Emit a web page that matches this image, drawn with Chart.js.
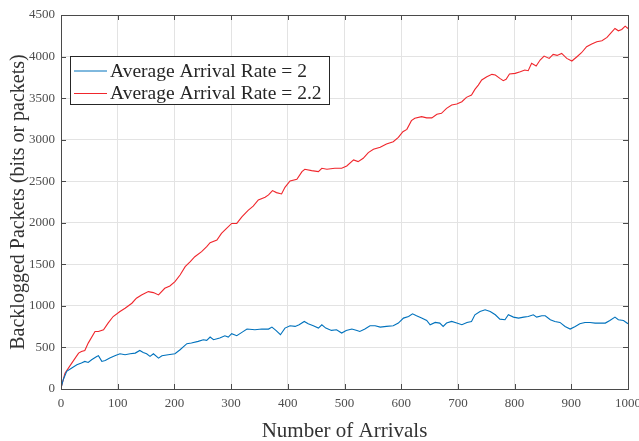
<!DOCTYPE html>
<html>
<head>
<meta charset="utf-8">
<script src="https://cdn.jsdelivr.net/npm/chart.js@4"></script>
<style>
	html, body { margin: 0; padding: 0; background: #fff; }
	#wrap { width: 639px; height: 441px; }
</style>
</head>
<body>
<div id="wrap"><canvas id="myChart" width="639" height="441"></canvas></div>
<script>
// values
const rate2X = [0, 4, 10, 19, 28, 36, 42, 48, 54, 63, 66, 72, 78, 86, 95, 104, 113, 122, 131, 139, 145, 151, 157, 163, 172, 178, 189, 201, 210, 222, 230, 242, 251, 257, 263, 269, 280, 289, 295, 301, 310, 319, 328, 342, 354, 366, 372, 379, 387, 395, 404, 413, 420, 429, 436, 445, 454, 460, 467, 477, 486, 495, 503, 513, 522, 527, 536, 545, 554, 563, 574, 586, 595, 604, 613, 620, 627, 636, 645, 651, 660, 668, 674, 680, 689, 698, 707, 716, 724, 730, 739, 748, 757, 766, 774, 783, 789, 798, 807, 816, 824, 833, 839, 848, 854, 863, 871, 880, 889, 898, 907, 915, 924, 933, 942, 951, 960, 968, 977, 983, 992, 1000]
const rate2Y = [12, 112, 212, 252, 292, 312, 332, 320, 352, 392, 400, 332, 344, 372, 400, 424, 412, 424, 432, 464, 440, 424, 392, 424, 372, 400, 412, 424, 472, 545, 553, 573, 593, 585, 625, 593, 613, 641, 625, 665, 641, 681, 721, 713, 721, 721, 745, 705, 653, 733, 761, 753, 773, 813, 785, 761, 733, 773, 733, 705, 713, 673, 705, 721, 705, 693, 721, 761, 761, 745, 753, 761, 793, 853, 873, 905, 881, 853, 825, 773, 801, 793, 753, 793, 813, 793, 773, 801, 813, 893, 933, 953, 933, 893, 841, 833, 893, 865, 853, 865, 873, 893, 865, 881, 881, 833, 813, 801, 753, 721, 753, 785, 801, 801, 793, 793, 793, 825, 865, 833, 825, 785]

const rate22X = [0, 7, 19, 31, 36, 42, 48, 60, 66, 75, 83, 92, 104, 113, 125, 133, 142, 154, 163, 172, 183, 192, 201, 210, 219, 228, 236, 248, 257, 263, 275, 283, 292, 301, 310, 319, 330, 339, 348, 360, 366, 373, 380, 389, 395, 404, 416, 425, 430, 442, 454, 460, 469, 483, 495, 504, 516, 524, 533, 542, 551, 563, 574, 586, 595, 603, 610, 618, 624, 636, 645, 654, 663, 671, 680, 689, 698, 707, 715, 724, 730, 736, 742, 751, 760, 766, 774, 780, 785, 791, 801, 810, 818, 824, 830, 838, 845, 852, 861, 868, 875, 883, 892, 901, 910, 918, 927, 936, 945, 954, 963, 970, 977, 983, 989, 995, 1000]
const rate22Y = [10, 190, 312, 432, 452, 464, 552, 692, 692, 712, 792, 872, 932, 972, 1032, 1092, 1132, 1172, 1160, 1132, 1212, 1240, 1292, 1372, 1472, 1532, 1592, 1652, 1712, 1760, 1792, 1872, 1932, 1992, 1992, 2072, 2150, 2200, 2275, 2307, 2335, 2387, 2363, 2347, 2427, 2503, 2523, 2616, 2644, 2628, 2616, 2656, 2644, 2656, 2656, 2684, 2756, 2736, 2776, 2844, 2884, 2908, 2948, 2976, 3028, 3096, 3124, 3229, 3257, 3277, 3262, 3262, 3305, 3317, 3377, 3417, 3429, 3457, 3509, 3537, 3605, 3657, 3718, 3758, 3786, 3778, 3738, 3710, 3726, 3790, 3798, 3818, 3838, 3830, 3918, 3886, 3958, 4006, 3978, 4026, 4014, 4038, 3978, 3946, 3998, 4046, 4118, 4150, 4178, 4190, 4230, 4286, 4338, 4310, 4326, 4366, 4338]

const seriesLabels = ['Average Arrival Rate = 2', 'Average Arrival Rate = 2.2']
const seriesColors = ['#0072bd', '#f0262c']
const xTicks = [0, 100, 200, 300, 400, 500, 600, 700, 800, 900, 1000]
const yTicks = [0, 500, 1000, 1500, 2000, 2500, 3000, 3500, 4000, 4500]
const xTitle = 'Number of Arrivals'
const yTitle = 'Backlogged Packets (bits or packets)'

const serif = "'Liberation Serif', 'Times New Roman', serif"
const toPoints = (xs, ys) => xs.map((x, i) => ({ x: x, y: ys[i] }))

// matlab style box, inside ticks, legend and axis titles
const matlabFrame = {
	id: 'matlabFrame',
	afterDraw(chart) {
		const { ctx, chartArea: a, scales } = chart
		ctx.save()
		ctx.strokeStyle = '#4a4a4a'
		ctx.lineWidth = 1
		ctx.beginPath()
		xTicks.forEach((t) => {
			const px = Math.round(scales.x.getPixelForValue(t)) + 0.5
			ctx.moveTo(px, a.bottom)
			ctx.lineTo(px, a.bottom - 5)
			ctx.moveTo(px, a.top)
			ctx.lineTo(px, a.top + 5)
		})
		yTicks.forEach((t) => {
			const py = Math.round(scales.y.getPixelForValue(t)) + 0.5
			ctx.moveTo(a.left, py)
			ctx.lineTo(a.left + 5, py)
			ctx.moveTo(a.right, py)
			ctx.lineTo(a.right - 5, py)
		})
		ctx.stroke()
		ctx.strokeRect(Math.round(a.left) + 0.5, Math.round(a.top) + 0.5, Math.round(a.right - a.left), Math.round(a.bottom - a.top))

		// legend
		const lx = 70, ly = 56, lw = 259, lh = 48
		ctx.fillStyle = '#fff'
		ctx.fillRect(lx, ly, lw, lh)
		ctx.strokeStyle = '#262626'
		ctx.strokeRect(lx + 0.5, ly + 0.5, lw, lh)
		ctx.font = '19.5px ' + serif
		ctx.textBaseline = 'middle'
		ctx.textAlign = 'left'
		seriesLabels.forEach((label, i) => {
			const y = ly + 14.5 + i * 22.5
			ctx.strokeStyle = seriesColors[i]
			ctx.beginPath()
			ctx.moveTo(lx + 4, y + 0.5)
			ctx.lineTo(lx + 37, y + 0.5)
			ctx.stroke()
			ctx.fillStyle = '#262626'
			ctx.fillText(label, lx + 40, y + 1)
		})

		// axis titles
		ctx.fillStyle = '#333'
		ctx.font = '21px ' + serif
		ctx.textAlign = 'center'
		ctx.textBaseline = 'alphabetic'
		ctx.fillText(xTitle, (a.left + a.right) / 2, 437)
		ctx.font = '20px ' + serif
		ctx.translate(24, (a.top + a.bottom) / 2)
		ctx.rotate(-Math.PI / 2)
		ctx.fillText(yTitle, 0, 0)
		ctx.restore()
	},
}

const ctx = document.getElementById('myChart').getContext('2d')
const myChart = new Chart(ctx, {
	type: 'line',
	data: {
		datasets: [
			{
				label: seriesLabels[0],
				data: toPoints(rate2X, rate2Y),
				borderColor: seriesColors[0],
				borderWidth: 1.1,
				pointRadius: 0,
				tension: 0,
			},
			{
				label: seriesLabels[1],
				data: toPoints(rate22X, rate22Y),
				borderColor: seriesColors[1],
				borderWidth: 1.1,
				pointRadius: 0,
				tension: 0,
			},
		],
	},
	options: {
		responsive: false,
		animation: false,
		layout: {
			padding: { left: 0, right: 11, top: 15, bottom: 0 },
		},
		plugins: {
			legend: { display: false },
			tooltip: { enabled: false },
		},
		scales: {
			x: {
				type: 'linear',
				min: 0,
				max: 1000,
				afterBuildTicks: (s) => { s.ticks = xTicks.map((v) => ({ value: v })) },
				afterFit: (s) => { s.height = 52; s.paddingLeft = 0; s.paddingRight = 0 },
				grid: { color: '#e3e3e3', drawTicks: false },
				border: { display: false },
				ticks: {
					padding: 7,
					maxRotation: 0,
					color: '#4d4d4d',
					font: { family: serif, size: 13 },
					callback: (v) => String(v),
				},
			},
			y: {
				min: 0,
				max: 4500,
				afterBuildTicks: (s) => { s.ticks = yTicks.map((v) => ({ value: v })) },
				afterFit: (s) => { s.width = 61; s.paddingTop = 0; s.paddingBottom = 0 },
				grid: { color: '#e3e3e3', drawTicks: false },
				border: { display: false },
				ticks: {
					padding: 6,
					color: '#4d4d4d',
					font: { family: serif, size: 13 },
					callback: (v) => String(v),
				},
			},
		},
	},
	plugins: [matlabFrame],
})
</script>
</body>
</html>
